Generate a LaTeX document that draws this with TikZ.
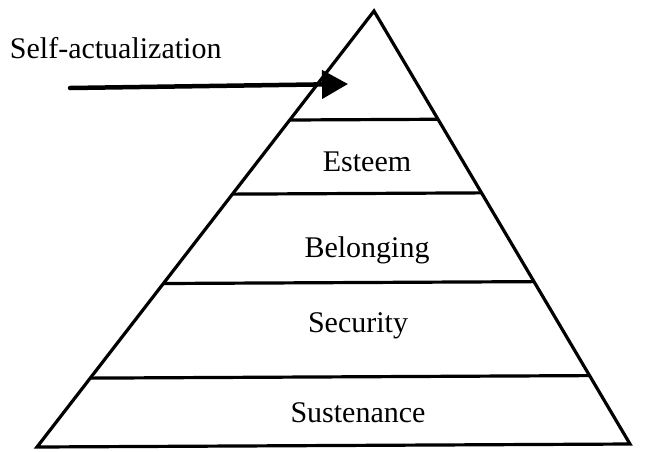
\documentclass[tikz,border=0pt]{standalone}
\usepackage{fontspec}
\setmainfont{Liberation Serif}
\usetikzlibrary{arrows.meta,calc}
\begin{document}
\begin{tikzpicture}[x=1pt,y=-1pt,line width=3.2pt,
    tier/.style={font=\fontsize{30}{33}\selectfont}]
    \useasboundingbox (0,0) rectangle (660,451);

    % Pyramid outline
    \coordinate (apex) at (374,11);
    \coordinate (baseL) at (37,447);
    \coordinate (baseR) at (630,444);
    \draw (apex) -- (baseL) -- (baseR) -- cycle;

    % Tier dividers
    \foreach \t in {0.25,0.42,0.625,0.842}
        \draw ($(apex)!\t!(baseL)$) -- ($(apex)!\t!(baseR)$);

    % Tier labels
    \node[tier] (esteem) at (367,162) {Esteem};
    \node[tier] (belonging) at (367,250) {Belonging};
    \node[tier] (security) at (358,326) {Security};
    \node[tier] (sustenance) at (358,413) {Sustenance};

    % Top tier pointer
    \node[tier,anchor=west] (selfact) at (5,48) {Self-actualization};
    \coordinate (tail) at (70,88);
    \coordinate (toptier) at (348,84);
    \draw[line width=4.5pt,line cap=round,-{Triangle[length=26pt,width=28pt]}] (tail) -- (toptier);
\end{tikzpicture}
\end{document}
